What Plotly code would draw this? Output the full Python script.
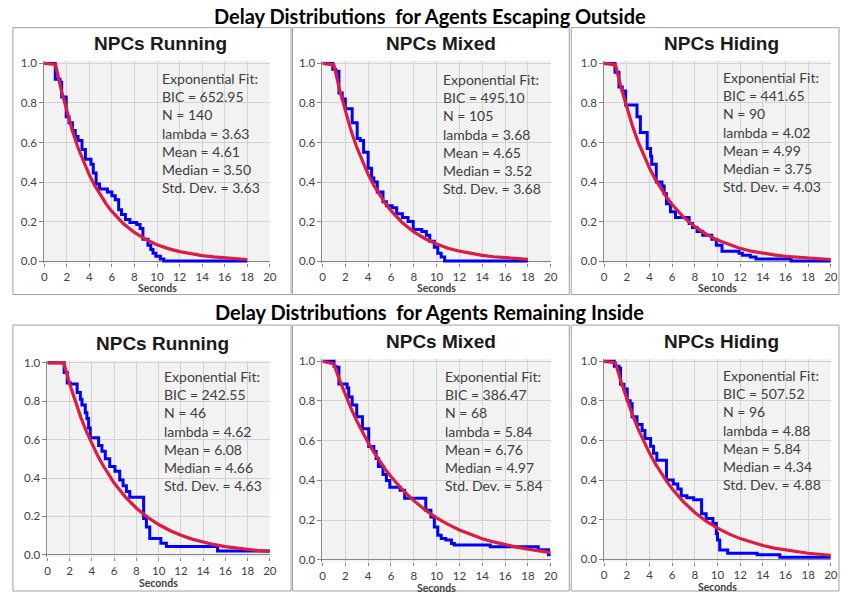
import plotly.graph_objects as go

# ---------------- data ----------------
row_titles = ["Delay Distributions  for Agents Escaping Outside",
              "Delay Distributions  for Agents Remaining Inside"]
panel_titles = ["NPCs Running", "NPCs Mixed", "NPCs Hiding",
                "NPCs Running", "NPCs Mixed", "NPCs Hiding"]
x_ticks = [0, 2, 4, 6, 8, 10, 12, 14, 16, 18, 20]
y_ticks = [0.0, 0.2, 0.4, 0.6, 0.8, 1.0]
x_title = "Seconds"

fit_bic = ["652.95", "495.10", "441.65", "242.55", "386.47", "507.52"]
fit_n = ["140", "105", "90", "46", "68", "96"]
fit_lambda = ["3.63", "3.68", "4.02", "4.62", "5.84", "4.88"]
fit_mean = ["4.61", "4.65", "4.99", "6.08", "6.76", "5.84"]
fit_median = ["3.50", "3.52", "3.75", "4.66", "4.97", "4.34"]
fit_sd = ["3.63", "3.68", "4.03", "4.63", "5.84", "4.88"]

# empirical (blue step) curves
out_running_x = [0, 0.98, 1.4, 1.55, 1.95, 2.2, 2.5, 2.75, 3.0, 3.35, 3.65, 4.15, 4.35, 4.6, 4.9,
                 5.6, 6.0, 6.3, 6.6, 6.85, 7.2, 7.6, 8.2, 8.5, 8.75, 9.2, 9.45, 9.65, 9.9, 10.3, 10.6, 18]
out_running_y = [1, 0.92, 0.905, 0.83, 0.73, 0.70, 0.66, 0.63, 0.61, 0.565, 0.515, 0.49, 0.445, 0.39, 0.365,
                 0.35, 0.33, 0.31, 0.26, 0.235, 0.21, 0.195, 0.185, 0.165, 0.11, 0.08, 0.058, 0.04, 0.025, 0.01, 0.0, 0.0]

out_mixed_x = [0, 0.9, 1.15, 1.44, 1.73, 2.0, 2.6, 3.04, 3.3, 3.6, 4.0, 4.3, 4.5, 4.8, 5.3, 5.6, 6.1,
               6.5, 7.0, 7.5, 7.95, 8.7, 9.1, 9.4, 9.8, 10.1, 10.4, 10.7, 18]
out_mixed_y = [1, 0.97, 0.96, 0.85, 0.82, 0.77, 0.70, 0.62, 0.61, 0.55, 0.47, 0.42, 0.40, 0.35, 0.30, 0.28, 0.27,
               0.24, 0.22, 0.20, 0.16, 0.15, 0.13, 0.10, 0.07, 0.04, 0.02, 0.0, 0.0]

out_hiding_x = [0, 0.96, 1.31, 1.6, 1.9, 2.18, 2.9, 3.2, 3.8, 4.1, 4.2, 4.6, 5.1, 5.3, 5.5, 5.85, 6.3,
                7.5, 7.8, 8.2, 8.7, 9.5, 9.9, 10.4, 10.7, 11.9, 12.2, 12.9, 13.4, 13.9, 16.5, 20]
out_hiding_y = [1, 0.955, 0.88, 0.86, 0.79, 0.79, 0.73, 0.65, 0.57, 0.53, 0.49, 0.40, 0.38, 0.34, 0.29, 0.25, 0.22,
                0.19, 0.17, 0.15, 0.13, 0.11, 0.08, 0.05, 0.05, 0.04, 0.03, 0.02, 0.01, 0.01, 0.0, 0.0]

in_running_x = [0, 1.5, 1.78, 2.07, 2.67, 2.96, 3.1, 3.4, 3.55, 3.7, 3.85, 4.6, 4.9, 5.2, 5.6, 6.07,
                6.5, 6.8, 7.1, 7.4, 8.65, 8.9, 9.2, 10.2, 10.7, 15.3, 20]
in_running_y = [1, 0.95, 0.895, 0.89, 0.845, 0.81, 0.78, 0.74, 0.71, 0.66, 0.61, 0.57, 0.54, 0.50, 0.46, 0.435,
                0.39, 0.36, 0.33, 0.30, 0.19, 0.145, 0.085, 0.06, 0.043, 0.02, 0.02]

in_mixed_x = [0, 1.01, 1.16, 1.44, 2.16, 2.3, 2.6, 3.0, 3.5, 4.05, 4.5, 4.7, 4.9, 5.3, 5.6, 5.9, 6.8,
              7.2, 9.05, 9.5, 9.8, 10.1, 10.4, 10.8, 11.3, 11.55, 14.7, 18.9, 19.8, 20]
in_mixed_y = [1, 0.975, 0.97, 0.885, 0.865, 0.82, 0.78, 0.72, 0.66, 0.57, 0.545, 0.51, 0.47, 0.43, 0.40, 0.365, 0.35,
              0.31, 0.25, 0.215, 0.165, 0.124, 0.107, 0.10, 0.082, 0.074, 0.066, 0.05, 0.025, 0.025]

in_hiding_x = [0, 0.9, 1.31, 1.45, 1.75, 2.04, 2.3, 2.47, 2.9, 3.35, 3.6, 4.1, 4.36, 4.65, 5.5, 6.1,
               6.5, 6.8, 7.3, 7.9, 8.6, 9.0, 9.6, 9.9, 10.0, 10.2, 10.9, 13.5, 15.5, 20]
in_hiding_y = [1, 0.975, 0.965, 0.884, 0.86, 0.80, 0.785, 0.72, 0.68, 0.65, 0.61, 0.57, 0.535, 0.50, 0.40, 0.38,
               0.355, 0.32, 0.31, 0.30, 0.23, 0.205, 0.18, 0.13, 0.097, 0.047, 0.03, 0.022, 0.01, 0.01]

# exponential fit (red) curves
fit_x_18 = [0, 1, 1.5, 2, 2.5, 3, 3.5, 4, 4.5, 5, 5.5, 6, 7, 8, 9, 10, 11, 12, 13, 14, 15, 16, 17, 18]
fit_x_20 = fit_x_18 + [19, 20]
fit_x_in_running = [0, 1.46, 2, 2.5, 3, 3.5, 4, 4.5, 5, 5.5, 6, 7, 8, 9, 10, 11, 12, 13, 14, 15, 16,
                    17, 18, 19, 20]

out_running_fit = [1, 0.995, 0.867, 0.755, 0.658, 0.573, 0.50, 0.435, 0.38, 0.33, 0.288, 0.251, 0.19, 0.145,
                   0.11, 0.083, 0.063, 0.048, 0.036, 0.028, 0.021, 0.016, 0.012, 0.008]
out_mixed_fit = [1, 0.992, 0.866, 0.756, 0.66, 0.576, 0.503, 0.439, 0.383, 0.334, 0.292, 0.255, 0.194, 0.148,
                 0.113, 0.086, 0.065, 0.05, 0.038, 0.029, 0.022, 0.017, 0.013, 0.009]
out_hiding_fit = [1, 0.993, 0.877, 0.774, 0.683, 0.603, 0.533, 0.471, 0.416, 0.367, 0.324, 0.286, 0.223, 0.174,
                  0.136, 0.106, 0.083, 0.064, 0.05, 0.039, 0.031, 0.024, 0.019, 0.015, 0.011, 0.008]
in_running_fit = [1, 1, 0.89, 0.798, 0.716, 0.643, 0.577, 0.518, 0.465, 0.417, 0.374, 0.302, 0.243, 0.196,
                  0.158, 0.127, 0.102, 0.082, 0.066, 0.053, 0.043, 0.035, 0.028, 0.022, 0.018]
in_mixed_fit = [1, 0.986, 0.905, 0.831, 0.763, 0.70, 0.643, 0.59, 0.542, 0.497, 0.456, 0.419, 0.353, 0.298,
                0.251, 0.211, 0.178, 0.15, 0.126, 0.106, 0.09, 0.076, 0.064, 0.054, 0.045, 0.036]
in_hiding_fit = [1, 0.992, 0.895, 0.808, 0.729, 0.658, 0.594, 0.536, 0.484, 0.437, 0.394, 0.356, 0.29, 0.236,
                 0.192, 0.157, 0.128, 0.104, 0.085, 0.069, 0.056, 0.046, 0.037, 0.03, 0.025, 0.02]

blue_x = [out_running_x, out_mixed_x, out_hiding_x, in_running_x, in_mixed_x, in_hiding_x]
blue_y = [out_running_y, out_mixed_y, out_hiding_y, in_running_y, in_mixed_y, in_hiding_y]
red_x = [fit_x_18, fit_x_18, fit_x_20, fit_x_in_running, fit_x_20, fit_x_20]
red_y = [out_running_fit, out_mixed_fit, out_hiding_fit, in_running_fit, in_mixed_fit, in_hiding_fit]

# ---------------- layout (pixel geometry) ----------------
W, H = 847, 596
def px(x):
    return x / W
def py(y):
    return 1 - y / H

# plot areas in pixels: (left, right, top, bottom)
areas = [(41.7, 270, 59.3, 260), (323.3, 554.3, 59.3, 260), (608.3, 837.7, 59.3, 260),
         (45, 270, 363.3, 558.3), (323.3, 554.3, 361.7, 563.3), (608.3, 837.7, 361.7, 562.7)]
boxes = [(10, 291.5, 23, 294), (293, 573, 23, 294), (575, 846, 23, 294),
         (10, 291.5, 325, 595), (293, 573, 325, 595), (575, 846, 325, 595)]
text_pos = [(158.5, 64), (443, 65), (727, 63), (160.5, 367), (445, 367), (727, 366)]
seconds_offset = [27, 27, 27, 28.5, 28.5, 28.5]

BLUE = "#0000FF"
RED = "#E01B40"
GRID = "#D2D2D2"
AXIS = "#868686"
TXT = "#404040"
BODY_FONT = "Lato"

fig = go.Figure()
layout = dict(width=W, height=H, margin=dict(l=0, r=0, t=0, b=0),
              paper_bgcolor="white", plot_bgcolor="#F2F2F2", showlegend=False)
shapes = []
annotations = []

for i in range(6):
    n = i + 1
    xa = "xaxis" if n == 1 else f"xaxis{n}"
    ya = "yaxis" if n == 1 else f"yaxis{n}"
    xr = "x" if n == 1 else f"x{n}"
    yr = "y" if n == 1 else f"y{n}"
    l, r, t, b = areas[i]
    pad = 0.012 * (b - t)
    layout[xa] = dict(domain=[px(l), px(r)], range=[0, 20], anchor=yr,
                      tickvals=x_ticks, ticktext=[str(v) for v in x_ticks],
                      showgrid=True, gridcolor=GRID, gridwidth=1, zeroline=False,
                      showline=False, ticks="outside", ticklen=3, tickcolor=AXIS,
                      tickfont=dict(family=BODY_FONT, size=11.5, color=TXT), fixedrange=True)
    layout[ya] = dict(domain=[py(b + pad), py(t - pad)], range=[-0.012, 1.012], anchor=xr,
                      tickvals=y_ticks, ticktext=[f"{v:.1f}" for v in y_ticks],
                      showgrid=True, gridcolor=GRID, gridwidth=1,
                      zeroline=True, zerolinecolor=AXIS, zerolinewidth=1,
                      showline=True, linecolor=AXIS, linewidth=1,
                      ticks="outside", ticklen=4, tickcolor=AXIS,
                      tickfont=dict(family=BODY_FONT, size=11.5, color=TXT), fixedrange=True)
    fig.add_trace(go.Scatter(x=blue_x[i], y=blue_y[i], mode="lines", line_shape="hv",
                             line=dict(color=BLUE, width=3), xaxis=xr, yaxis=yr))
    fig.add_trace(go.Scatter(x=red_x[i], y=red_y[i], mode="lines",
                             line=dict(color=RED, width=3.2), xaxis=xr, yaxis=yr))

    bl, br, bt, bb = boxes[i]
    shapes.append(dict(type="rect", xref="paper", yref="paper", x0=px(bl), x1=px(br),
                       y0=py(bb), y1=py(bt), line=dict(color="#A0A0A0", width=1),
                       fillcolor="rgba(0,0,0,0)", layer="below"))
    # panel title
    annotations.append(dict(text=f"<b>{panel_titles[i]}</b>", xref="paper", yref="paper",
                            x=px((l + r) / 2 + 4), y=py(t - 20), xanchor="center", yanchor="middle",
                            showarrow=False,
                            font=dict(family="Liberation Sans", size=19, color="#1A1A1A")))
    # x-axis title
    annotations.append(dict(text=f"<b>{x_title}</b>", xref="paper", yref="paper",
                            x=px((l + r) / 2), y=py(b + seconds_offset[i]), xanchor="center",
                            yanchor="middle", showarrow=False,
                            font=dict(family=BODY_FONT, size=10.5, color=TXT)))
    # fit statistics
    lines = ["Exponential Fit:", f"BIC = {fit_bic[i]}", f"N = {fit_n[i]}",
             f"lambda = {fit_lambda[i]}", f"Mean = {fit_mean[i]}",
             f"Median = {fit_median[i]}", f"Std. Dev. = {fit_sd[i]}"]
    tx, ty = text_pos[i]
    annotations.append(dict(text="<br>".join(lines), xref="paper", yref="paper",
                            x=px(tx), y=py(ty), xanchor="left", yanchor="top", align="left",
                            showarrow=False,
                            font=dict(family=BODY_FONT, size=14, color=TXT)))

# row titles
for k, yy in enumerate([11, 312]):
    annotations.append(dict(text=f"<b>{row_titles[k]}</b>", xref="paper", yref="paper",
                            x=px(432), y=py(yy), xanchor="center", yanchor="middle",
                            showarrow=False, font=dict(family=BODY_FONT, size=20, color="#000000")))

layout["shapes"] = shapes
layout["annotations"] = annotations
fig.update_layout(**layout)
fig.write_html("out.html", config={"displayModeBar": False},
               post_script="document.body.style.margin='0';document.body.style.padding='0';"
                           "document.body.style.overflow='hidden';")
